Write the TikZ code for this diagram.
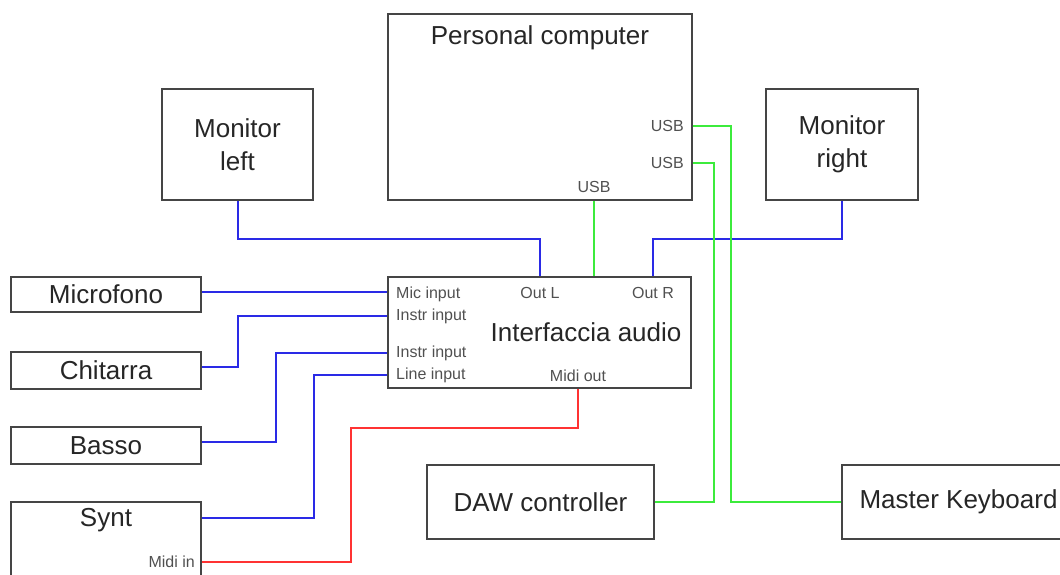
\documentclass[tikz,border=0pt]{standalone}
\usepackage{fontspec}
\setmainfont{Liberation Sans}
\usepackage{tikz}
\usetikzlibrary{positioning}
\definecolor{boxgray}{HTML}{454545}
\definecolor{portgray}{HTML}{505050}
\definecolor{audioblue}{HTML}{2A2AE6}
\definecolor{usbgreen}{HTML}{3CEB3C}
\definecolor{midired}{HTML}{FF3333}

\begin{document}
\begin{tikzpicture}[
    x=1pt, y=-1pt,
    every node/.style={inner sep=0pt},
    box/.style={draw=boxgray, line width=2pt, rectangle, align=center, text=black!85,
                font=\fontsize{26}{33}\selectfont},
    title/.style={text=black!85, font=\fontsize{26}{33}\selectfont},
    port/.style={text=portgray, font=\fontsize{16}{18}\selectfont},
    audioline/.style={draw=audioblue, line width=2pt},
    usbline/.style={draw=usbgreen, line width=2pt},
    midiline/.style={draw=midired, line width=2pt}
    ]

\useasboundingbox (0,0) rectangle (1060,575);
\clip (0,0) rectangle (1060,575);

% boxes
\node[box, minimum width=304, minimum height=186] (pc) at (540,107) {};
\node[title] (pctitle) at (540,38) {Personal computer};
\node[box, minimum width=151, minimum height=111] (monl) at (237.5,144.5) {Monitor\\left};
\node[box, minimum width=152, minimum height=111] (monr) at (842,144.5) {Monitor\\right};
\node[box, minimum width=303, minimum height=111] (audio) at (539.5,332.5) {};
\node[title] (audiotitle) at (586,332) {Interfaccia audio};
\node[box, minimum width=190, minimum height=35] (mic) at (106,294.5) {Microfono};
\node[box, minimum width=190, minimum height=37] (chit) at (106,370.5) {Chitarra};
\node[box, minimum width=190, minimum height=37] (basso) at (106,445.5) {Basso};
\node[box, minimum width=190, minimum height=100] (synt) at (106,552) {};
\node[title] (synttitle) at (106,520) {Synt};
\node[box, minimum width=227, minimum height=74] (daw) at (540.5,502) {DAW controller};
\node[box, minimum width=233, minimum height=74] (master) at (958.5,502) {Master Keyboard};

% ports
\node[port, anchor=east] (usbA) at (684,126) {USB};
\node[port, anchor=east] (usbB) at (684,163) {USB};
\node[port] (usbC) at (594,187) {USB};
\node[port, anchor=west] (micin) at (396,294) {Mic input};
\node[port, anchor=west] (instrA) at (396,316) {Instr input};
\node[port, anchor=west] (instrB) at (396,353) {Instr input};
\node[port, anchor=west] (linein) at (396,375) {Line input};
\node[port] (outl) at (540,293) {Out L};
\node[port] (outr) at (653,293) {Out R};
\node[port] (midiout) at (578,376) {Midi out};
\node[port, anchor=east] (midiin) at (195,562) {Midi in};

% audio
\draw[audioline] (monl.south) -- ++(0,38) -| (audio.north -| outl);
\draw[audioline] (monr.south) -- ++(0,38) -| (audio.north -| outr);
\draw[audioline] (mic.east |- 0,292) -- (audio.west |- 0,292);
\draw[audioline] (chit.east |- 0,367) -- ++(36,0) |- (audio.west |- instrA);
\draw[audioline] (basso.east |- 0,442) -- ++(74,0) |- (audio.west |- instrB);
\draw[audioline] (synt.east |- 0,518) -- ++(112,0) |- (audio.west |- linein);

% usb
\draw[usbline] (pc.south -| usbC) -- (audio.north -| usbC);
\draw[usbline] (pc.east |- usbA) -- ++(38,0) |- (master.west);
\draw[usbline] (pc.east |- usbB) -- ++(21,0) |- (daw.east);

% midi
\draw[midiline] (audio.south -| midiout) -- ++(0,39) -- ++(-227,0) |- (synt.east |- midiin);

\end{tikzpicture}
\end{document}
